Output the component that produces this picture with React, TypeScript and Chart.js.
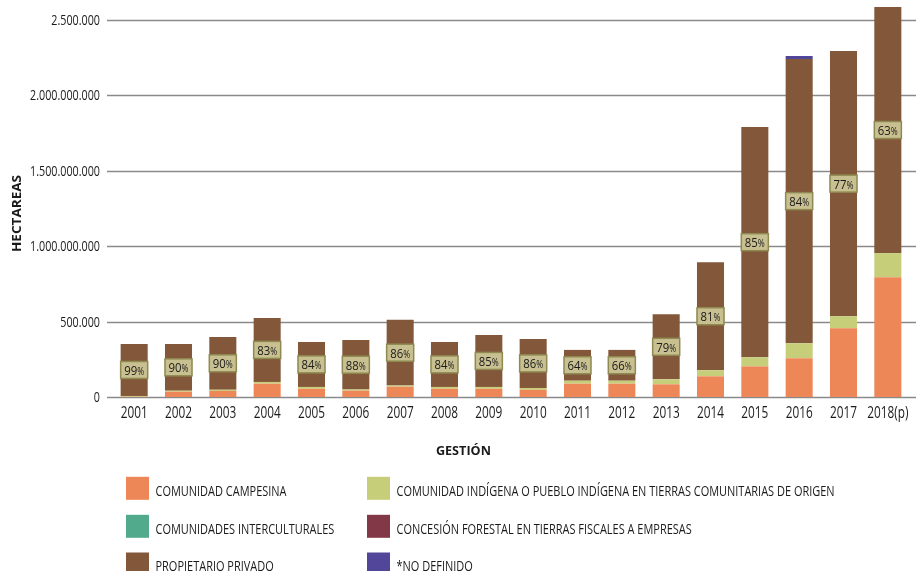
import React, { useEffect, useRef } from 'react';
import { Chart, registerables } from 'chart.js';

Chart.register(...registerables);

const categories = ['2001', '2002', '2003', '2004', '2005', '2006', '2007', '2008', '2009', '2010', '2011', '2012', '2013', '2014', '2015', '2016', '2017', '2018(p)'];
const campesina = [2000, 35000, 40000, 88000, 55000, 42000, 68000, 55000, 55000, 48000, 88000, 88000, 84000, 137000, 203000, 257000, 455000, 794000];
const indigena = [5000, 7000, 8000, 12000, 12000, 8000, 8000, 12000, 12000, 12000, 20000, 20000, 33000, 40000, 60000, 99000, 80000, 159000];
const interculturales = [0, 0, 0, 0, 0, 0, 0, 0, 0, 0, 0, 0, 0, 0, 0, 0, 0, 0];
const concesion = [0, 0, 0, 0, 0, 0, 0, 0, 0, 0, 0, 0, 0, 0, 0, 0, 0, 0];
const privado = [344000, 309000, 350000, 424000, 298000, 328000, 435000, 298000, 344000, 325000, 204000, 204000, 431000, 716000, 1525000, 1883000, 1757000, 1631000];
const noDefinido = [0, 0, 0, 0, 0, 0, 0, 0, 0, 0, 0, 0, 0, 0, 0, 20000, 0, 0];
const privadoPct = [99, 90, 90, 83, 84, 88, 86, 84, 85, 86, 64, 66, 79, 81, 85, 84, 77, 63];

const yTickValues = [0, 500000, 1000000, 1500000, 2000000, 2500000];
const yTickLabels = ['0', '500.000', '1.000.000.000', '1.500.000.000', '2.000.000.000', '2.500.000'];

const seriesNames = [
  'COMUNIDAD CAMPESINA',
  'COMUNIDAD INDÍGENA O PUEBLO INDÍGENA EN TIERRAS COMUNITARIAS DE ORIGEN',
  'COMUNIDADES INTERCULTURALES',
  'CONCESIÓN FORESTAL EN TIERRAS FISCALES A EMPRESAS',
  'PROPIETARIO PRIVADO',
  '*NO DEFINIDO',
];
const seriesColors = ['#EE8758', '#C6CE7A', '#52AA8C', '#833848', '#82573A', '#52469B'];

const FONT = '"Open Sans", "Noto Sans", sans-serif';
const TEXT = '#1a1a1a';

// draw text with horizontal condensation so that `refText` would span `refWidth`
function makeScale(ctx: CanvasRenderingContext2D, font: string, refText: string, refWidth: number) {
  ctx.save();
  ctx.font = font;
  const w = ctx.measureText(refText).width;
  ctx.restore();
  return w > 0 ? refWidth / w : 1;
}

function drawText(
  ctx: CanvasRenderingContext2D,
  text: string,
  x: number,
  y: number,
  font: string,
  sx: number,
  align: CanvasTextAlign,
  rotate = 0,
) {
  ctx.save();
  ctx.translate(x, y);
  if (rotate) ctx.rotate(rotate);
  ctx.scale(sx, 1);
  ctx.font = font;
  ctx.textAlign = align;
  ctx.textBaseline = 'alphabetic';
  ctx.fillStyle = TEXT;
  ctx.fillText(text, 0, 0);
  ctx.restore();
}

const gridPlugin = {
  id: 'customGrid',
  beforeDatasetsDraw(chart: any) {
    const ctx = chart.ctx;
    const y = chart.scales.y;
    ctx.save();
    ctx.strokeStyle = '#8a8a8a';
    ctx.lineWidth = 1.6;
    yTickValues.forEach((v) => {
      const py = Math.round(y.getPixelForValue(v)) + 0.5;
      ctx.beginPath();
      ctx.moveTo(chart.chartArea.left - 5, py);
      ctx.lineTo(chart.width, py);
      ctx.stroke();
    });
    ctx.restore();
  },
};

const pctPlugin = {
  id: 'pctLabels',
  afterDatasetsDraw(chart: any) {
    const ctx = chart.ctx;
    const meta = chart.getDatasetMeta(4);
    const numFont = `13.5px ${FONT}`;
    const pctFont = `10px ${FONT}`;
    const sx = makeScale(ctx, numFont, '85', 13);
    ctx.save();
    meta.data.forEach((bar: any, i: number) => {
      const { x, y, base, width } = bar.getProps(['x', 'y', 'base', 'width'], true);
      const cy = (y + base) / 2;
      const w = width;
      const h = 17;
      ctx.fillStyle = '#C9C091';
      ctx.fillRect(x - w / 2, cy - h / 2, w, h);
      ctx.strokeStyle = '#8E8A52';
      ctx.lineWidth = 1.5;
      ctx.strokeRect(x - w / 2, cy - h / 2, w, h);
      const num = String(privadoPct[i]);
      ctx.font = numFont;
      const nw = ctx.measureText(num).width * sx;
      ctx.font = pctFont;
      const pw = ctx.measureText('%').width * sx;
      const startX = x - (nw + pw) / 2;
      drawText(ctx, num, startX, cy + 5, numFont, sx, 'left');
      drawText(ctx, '%', startX + nw, cy + 5, pctFont, sx, 'left');
    });
    ctx.restore();
  },
};

const decorPlugin = {
  id: 'decor',
  afterDraw(chart: any) {
    const ctx = chart.ctx;
    const xs = chart.scales.x;
    const ys = chart.scales.y;

    // y tick labels
    const yFont = `14px ${FONT}`;
    const ySx = makeScale(ctx, yFont, '2.000.000.000', 70);
    yTickValues.forEach((v, i) => {
      const py = ys.getPixelForValue(v);
      drawText(ctx, yTickLabels[i], 100, py + 5, yFont, ySx, 'right');
    });

    // x tick labels
    const xFont = `15.5px ${FONT}`;
    const xSx = makeScale(ctx, xFont, '2001', 27);
    categories.forEach((c, i) => {
      const px = xs.getPixelForTick(i);
      drawText(ctx, c, px, 418, xFont, xSx, 'center');
    });

    // axis titles
    const bFont = `bold 12.6px ${FONT}`;
    const hSx = makeScale(ctx, bFont, 'HECTAREAS', 77);
    drawText(ctx, 'HECTAREAS', 21.3, 213.5, bFont, hSx, 'center', -Math.PI / 2);
    const gSx = makeScale(ctx, bFont, 'GESTIÓN', 55);
    drawText(ctx, 'GESTIÓN', 463.4, 455, bFont, gSx, 'center');

    // legend
    const lFont = `14.5px ${FONT}`;
    const lSx = makeScale(ctx, lFont, 'COMUNIDAD CAMPESINA', 131);
    const colX = [126, 367];
    const rowY = [488.3, 526.3, 564];
    seriesNames.forEach((name, k) => {
      const col = k % 2;
      const row = Math.floor(k / 2);
      const sx = colX[col];
      const sy = rowY[row];
      ctx.save();
      ctx.fillStyle = seriesColors[k];
      ctx.fillRect(sx, sy - 11.5, 23, 23);
      ctx.restore();
      drawText(ctx, name, sx + 29.5, sy + 7.4, lFont, lSx, 'left');
    });
  },
};

export default function App() {
  const ref = useRef<HTMLCanvasElement | null>(null);

  useEffect(() => {
    if (!ref.current) return;
    const seriesData = [campesina, indigena, interculturales, concesion, privado, noDefinido];
    const chart = new Chart(ref.current, {
      type: 'bar',
      data: {
        labels: categories,
        datasets: seriesData.map((d, i) => ({
          label: seriesNames[i],
          data: d,
          backgroundColor: seriesColors[i],
          borderWidth: 0,
          barPercentage: 0.61,
          categoryPercentage: 1,
        })),
      },
      options: {
        animation: false,
        responsive: true,
        maintainAspectRatio: false,
        layout: { padding: { top: 6, bottom: 104, right: 6, left: 0 } },
        plugins: {
          legend: { display: false },
          tooltip: { enabled: false },
        },
        scales: {
          x: {
            stacked: true,
            grid: { display: false, drawTicks: false },
            border: { display: false },
            ticks: { display: false, autoSkip: false, maxRotation: 0 },
            afterFit: (s: any) => {
              s.height = 70;
              s.paddingLeft = 0;
              s.paddingRight = 0;
            },
          },
          y: {
            stacked: true,
            min: 0,
            max: 2590000,
            grid: { display: false, drawTicks: false },
            border: { display: false },
            ticks: { display: false, stepSize: 500000 },
            afterFit: (s: any) => {
              s.width = 112;
              s.paddingTop = 0;
              s.paddingBottom = 0;
            },
          },
        },
      },
      plugins: [gridPlugin, pctPlugin, decorPlugin],
    });
    return () => chart.destroy();
  }, []);

  return (
    <div style={{ position: 'fixed', left: 0, top: 0, width: 916, height: 571, background: '#fff' }}>
      <canvas ref={ref} />
    </div>
  );
}
